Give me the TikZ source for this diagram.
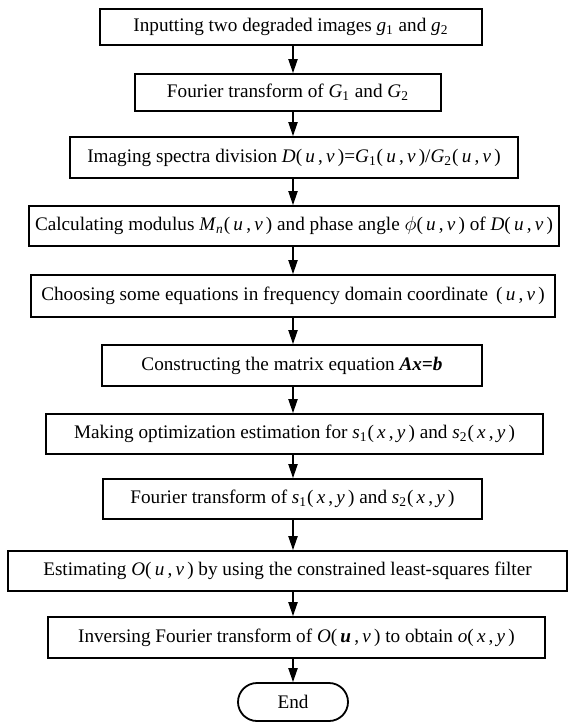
\documentclass[tikz,border=0pt]{standalone}
\usepackage{fontspec}
\setmainfont{Liberation Serif}
\usetikzlibrary{arrows.meta}
\newcommand\vi[1]{\textit{#1}}
\newcommand\UV{(\,\textit{u}\,,\,\textit{v}\,)}
\newcommand\XY{(\,\textit{x}\,,\,\textit{y}\,)}
\begin{document}
\begin{tikzpicture}[x=0.5pt,y=-0.5pt,
  box/.style={draw, line width=0.9pt, inner sep=0pt, font=\fontsize{9.6}{11}\selectfont},
  endbox/.style={box, rounded corners=9.5pt},
  arr/.style={line width=0.75pt, -{Triangle[length=7pt,width=4.6pt]}}]
\useasboundingbox (0,0) rectangle (569,722);
\coordinate (ax) at (293,0);
\node[box, minimum width=191pt, minimum height=18pt] (b1) at (291,27)
  {Inputting two degraded images \vi{g}\textsubscript{1} and \vi{g}\textsubscript{2}};
\node[box, minimum width=153pt, minimum height=18.5pt] (b2) at (288,92.5)
  {Fourier transform of \vi{G}\textsubscript{1} and \vi{G}\textsubscript{2}};
\node[box, minimum width=224pt, minimum height=20.5pt] (b3) at (294,157.5)
  {Imaging spectra division \vi{D}\UV=\vi{G}\textsubscript{1}\UV/\vi{G}\textsubscript{2}\UV};
\node[box, minimum width=265pt, minimum height=20pt] (b4) at (294,226)
  {Calculating modulus \vi{M}\textsubscript{\vi{n}}\UV{} and phase angle $\phi$\UV{} of \vi{D}\UV};
\node[box, minimum width=262pt, minimum height=21pt] (b5) at (293,296)
  {Choosing some equations in frequency domain coordinate \,\UV};
\node[box, minimum width=190pt, minimum height=20.5pt] (b6) at (292,365.5)
  {Constructing the matrix equation \textbf{\textit{Ax=b}}};
\node[box, minimum width=248.5pt, minimum height=20pt] (b7) at (294.5,434)
  {Making optimization estimation for \vi{s}\textsubscript{1}\XY{} and \vi{s}\textsubscript{2}\XY};
\node[box, minimum width=189.5pt, minimum height=20pt] (b8) at (292.5,499)
  {Fourier transform of \vi{s}\textsubscript{1}\XY{} and \vi{s}\textsubscript{2}\XY};
\node[box, minimum width=279.5pt, minimum height=20pt] (b9) at (287.5,571)
  {Estimating \vi{O}\UV{} by using the constrained least-squares filter};
\node[box, minimum width=248.5pt, minimum height=20.5pt] (b10) at (296.5,637.5)
  {Inversing Fourier transform of \vi{O}(\,\textbf{\textit{u}}\,,\,\textit{v}\,) to obtain \vi{o}\XY};
\node[endbox, minimum width=55pt, minimum height=19pt] (e) at (293,702) {End};
\foreach \a/\b in {b1/b2,b2/b3,b3/b4,b4/b5,b5/b6,b6/b7,b7/b8,b8/b9,b9/b10,b10/e}
  \draw[arr] (\a.south -| ax) -- (\b.north -| ax);
\end{tikzpicture}
\end{document}
